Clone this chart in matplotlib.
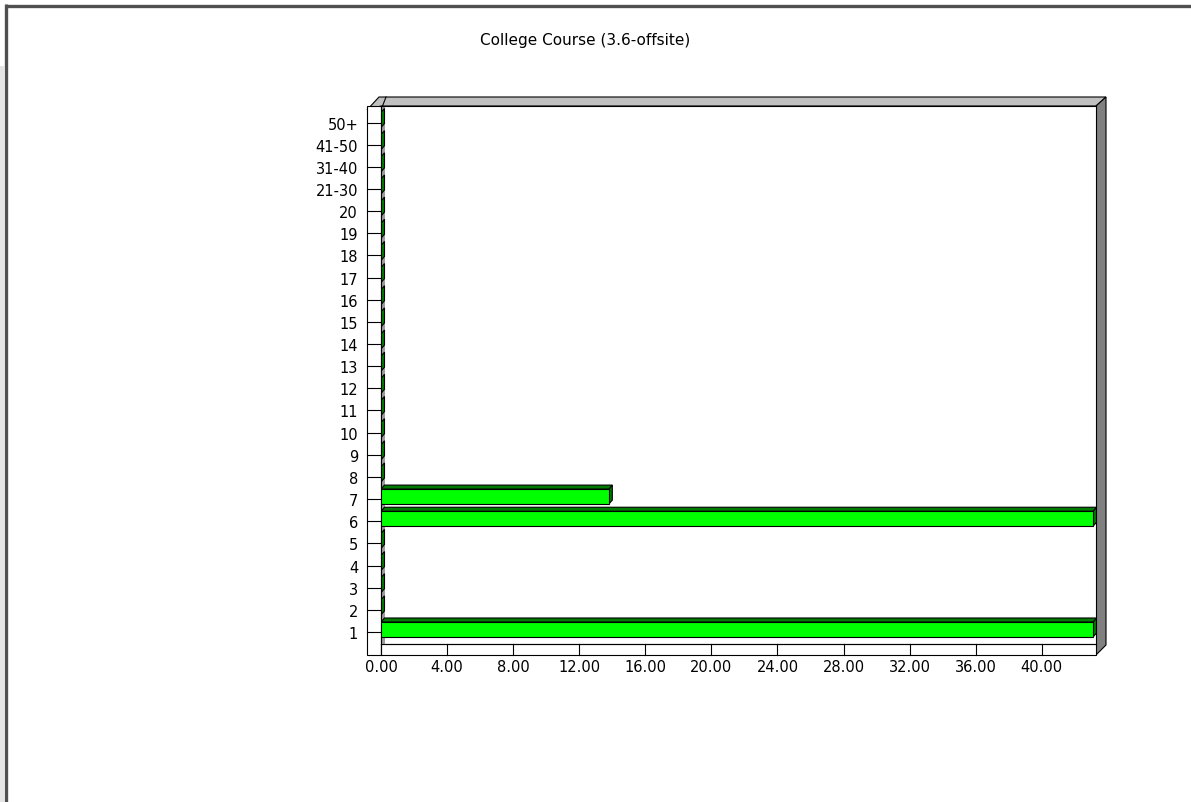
import matplotlib
matplotlib.use("Agg")
import matplotlib.pyplot as plt
from matplotlib.patches import Polygon, Rectangle

# ---- data -------------------------------------------------------------
categories = [str(i) for i in range(1, 21)] + ["21-30", "31-40", "41-50", "50+"]
values = [43.10, 0, 0, 0, 0, 43.10, 13.79, 0, 0, 0,
          0, 0, 0, 0, 0, 0, 0, 0, 0, 0,
          0, 0, 0, 0]
x_ticks = [0, 4, 8, 12, 16, 20, 24, 28, 32, 36, 40]
title = "College Course (3.6-offsite)"

# ---- styling ----------------------------------------------------------
W, H = 1191, 803
FONT = "DejaVu Sans"
GREEN = "#00FF00"
DARK_GREEN = "#007A00"
WALL_LIGHT = "#C0C0C0"
WALL_DARK = "#808080"
LW = 0.8

fig = plt.figure(figsize=(W / 100, H / 100), dpi=100)
fig.patch.set_facecolor("white")

# pixel-space layer for the frame and the 3D box walls
bg = fig.add_axes([0, 0, 1, 1], zorder=0)
bg.set_xlim(0, W)
bg.set_ylim(H, 0)
bg.axis("off")
bg.add_patch(Rectangle((0, 67), 4, H - 67, facecolor="#E4E4E4", edgecolor="none"))
bg.plot([5.5, 5.5], [5, H], color="#505050", lw=2.4, solid_capstyle="butt")
bg.plot([5, W], [6.5, 6.5], color="#505050", lw=2.4, solid_capstyle="butt")

# plot interior in pixels
L, R, T, B = 381, 1096, 107, 645
DX = 10                 # box depth offset (pixels)

# top band
bg.add_patch(Polygon([(L - 14, T + 4), (L - 14 + 12, T - 9), (R + DX, T - 9),
                      (R, T), (L, T)], closed=True,
                     facecolor=WALL_LIGHT, edgecolor="black", lw=LW))
bg.plot([L, L + 5], [T + 4, T - 9], color="black", lw=LW)
# right wall
bg.add_patch(Polygon([(R, T), (R + DX, T - 9), (R + DX, B + 1), (R, B + 11)],
                     closed=True, facecolor=WALL_DARK, edgecolor="black", lw=LW))

fig.text(585 / W, 1 - 41 / H, title, ha="center", va="center",
         fontsize=11, family=FONT, color="black")

# ---- main axes --------------------------------------------------------
ax = fig.add_axes([L / W, 1 - B / H, (R - L) / W, (B - T) / H], zorder=2)
ax.set_facecolor("white")
px_x = 16.52                   # pixels per x unit
xmax = (R - L) / px_x
px_y = 22.15                   # pixels per category
ax.set_xlim(0, xmax)
ax.set_ylim(-12 / px_y, 23 + 16.5 / px_y)
for s in ax.spines.values():
    s.set_color("black")
    s.set_linewidth(LW)

ypos = list(range(len(categories)))
ax.set_yticks(ypos)
ax.set_yticklabels(categories)
ax.set_xticks(x_ticks)
ax.set_xticklabels([f"{v:.2f}" for v in x_ticks])
ax.tick_params(axis="y", length=0, pad=16.5, labelsize=10.5)
ax.tick_params(axis="x", length=0, pad=11.0, labelsize=10.5)
for lab in ax.get_xticklabels() + ax.get_yticklabels():
    lab.set_family(FONT)
    lab.set_color("black")

col_w = 14 / (R - L)           # left column width (axes fraction)
floor_h = 11 / (B - T)         # floor height (axes fraction)

# left column with category lines
ax.add_patch(Rectangle((-col_w, -floor_h), col_w, 1 + floor_h,
                       transform=ax.transAxes, facecolor="white",
                       edgecolor="black", lw=LW, clip_on=False))
ytr = ax.get_yaxis_transform()
for y in ypos:
    ax.plot([-col_w, 0], [y, y], transform=ytr, color="black", lw=LW, clip_on=False)

# floor with value lines
ax.add_patch(Rectangle((0, -floor_h), 1, floor_h, transform=ax.transAxes,
                       facecolor="white", edgecolor="black", lw=LW, clip_on=False))
xtr = ax.get_xaxis_transform()
for x in x_ticks:
    ax.plot([x, x], [-floor_h, 0], transform=xtr, color="black", lw=LW, clip_on=False)

# 3D bars
dx = 3.5 / px_x
dy = 4 / px_y
h = 15 / px_y
off = 2.5 / px_y
ylo, yhi = ax.get_ylim()
ax.add_patch(Rectangle((0, ylo), dx, yhi - ylo, facecolor="#9A9A9A",
                       edgecolor="none", zorder=1))
for y, v in zip(ypos, values):
    bot = y + off - h / 2
    top = y + off + h / 2
    # right side face
    ax.add_patch(Polygon([(v, bot), (v + dx, bot + dy), (v + dx, top + dy), (v, top)],
                         closed=True, facecolor=DARK_GREEN, edgecolor="black",
                         lw=LW, zorder=3))
    if v > 0:
        # top face
        ax.add_patch(Polygon([(0, top), (v, top), (v + dx, top + dy), (dx, top + dy)],
                             closed=True, facecolor=DARK_GREEN, edgecolor="black",
                             lw=LW, zorder=3))
ax.barh([y + off for y in ypos], values, height=h, left=0, color=GREEN,
        edgecolor="black", linewidth=LW, zorder=4)

fig.savefig("out.png", dpi=100, facecolor="white")
